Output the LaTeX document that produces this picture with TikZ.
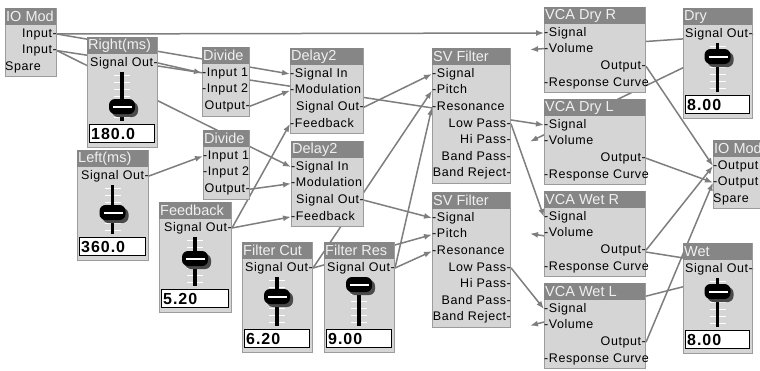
\documentclass[tikz,border=0pt]{standalone}
\usepackage{fontspec}
\setmainfont{Liberation Sans}
\newfontfamily\pinfamily[LetterSpace=4.5]{Liberation Sans}
\newfontfamily\valfamily[LetterSpace=6]{Liberation Sans}
\usetikzlibrary{arrows.meta, calc}

\pgfdeclarelayer{bg}
\pgfdeclarelayer{wires}
\pgfsetlayers{bg,wires,main}

\definecolor{panelfill}{HTML}{D5D5D5}
\definecolor{paneledge}{HTML}{9C9C9C}
\definecolor{headfill}{HTML}{868686}
\definecolor{headtext}{HTML}{F0F0F0}
\definecolor{wirecol}{HTML}{7E7E7E}
\definecolor{knobshade}{HTML}{4A4A4A}

% one module: name, x, y, width, height, title, pins (anchor/text)
\newcommand\module[7]{%
  \node[panel, minimum width=#4pt, minimum height=#5pt] (#1) at (#2,#3) {};
  \node[head, minimum width=#4pt] (#1-hd) at (#2,#3) {};
  \node[title] (#1-tt) at ($(#1-hd.west)+(1,0)$) {#6};
  \foreach \side/\txt [count=\i] in {#7}
    \node[pin, anchor=\side] (#1-\i) at ($(#1.north \side)+(0,{26+(\i-1)*16.6})$) {\txt};
}

% fader module: name, x, y, width, title, knob offset, value
\newcommand\slider[7]{%
  \module{#1}{#2}{#3}{#4}{110}{#5}{east/Signal Out-}
  \coordinate (#1-c) at ({#2+#4/2},#3);
  \foreach \k in {0,...,6}
    \draw[tick] ($(#1-c)+(-8,{38+7*\k})$) -- ++(16,0);
  \draw[rail] ($(#1-c)+(0,35)$) -- ($(#1-c)+(0,84)$);
  \fill[knobshade, rounded corners=6pt] ($(#1-c)+(-10,{#6-5})$) rectangle ($(#1-c)+(16,{#6+10})$);
  \fill[black, rounded corners=6pt] ($(#1-c)+(-13,{#6-8})$) rectangle ($(#1-c)+(13,{#6+7})$);
  \draw[white, line width=1.8pt] ($(#1-c)+(-9,#6)$) -- ($(#1-c)+(10,#6)$);
  \node[valbox, minimum width={#4pt-5pt}] (#1-box) at ({#2+2},{#3+87}) {};
  \node[valtext] (#1-val) at ($(#1-box.west)+(2,0)$) {#7};
}

\begin{document}
\begin{tikzpicture}[
    x=1pt, y=-1pt,
    panel/.style={draw=paneledge, fill=panelfill, line width=1pt, anchor=north west, inner sep=0pt},
    head/.style={fill=headfill, anchor=north west, minimum height=17pt, inner sep=0pt},
    title/.style={anchor=west, inner sep=0pt, text=headtext, font=\fontsize{14.5}{14.5}\selectfont},
    pin/.style={inner sep=0pt, text height=9pt, text depth=2.5pt, font=\pinfamily\fontsize{12.5}{12.5}\selectfont},
    valbox/.style={draw=black, fill=white, line width=1.2pt, anchor=north west, minimum height=18pt, inner sep=0pt},
    valtext/.style={anchor=west, inner sep=0pt, font=\valfamily\bfseries\fontsize{16}{16}\selectfont},
    tick/.style={draw=white, line width=1pt},
    rail/.style={draw=black, line width=3.5pt},
    wire/.style={draw=wirecol, line width=1.5pt, -{Latex[length=8pt,width=6pt]}}
]
\useasboundingbox (0,0) rectangle (760,370);
\begin{pgfonlayer}{bg}
  \fill[white] (0,0) rectangle (760,370);
\end{pgfonlayer}

% inputs and delay times
\module{ioL}{5}{8}{51}{68}{IO Mod}{east/Input-, east/Input-, west/Spare}
\slider{rms}{87}{37}{70}{Right(ms)}{70}{180.0}
\slider{lms}{77}{150}{71}{Left(ms)}{63}{360.0}
\module{divA}{202}{47}{47}{69}{Divide}{west/-Input 1, west/-Input 2, east/Output-}
\module{divB}{203}{130}{46}{69}{Divide}{west/-Input 1, west/-Input 2, east/Output-}
\slider{fbk}{159}{202}{72}{Feedback}{57}{5.20}

% delays and filters
\module{dlyA}{290}{48}{73}{85}{Delay2}{west/-Signal In, west/-Modulation, east/Signal Out-, west/-Feedback}
\module{dlyB}{291}{141}{72}{85}{Delay2}{west/-Signal In, west/-Modulation, east/Signal Out-, west/-Feedback}
\slider{fcut}{242}{242}{70}{Filter Cut}{55}{6.20}
\slider{fres}{324}{242}{70}{Filter Res}{43}{9.00}
\module{svA}{432}{48}{78}{135}{SV Filter}{west/-Signal, west/-Pitch, west/-Resonance, east/Low Pass-, east/Hi Pass-, east/Band Pass-, east/Band Reject-}
\module{svB}{432}{192}{78}{135}{SV Filter}{west/-Signal, west/-Pitch, west/-Resonance, east/Low Pass-, east/Hi Pass-, east/Band Pass-, east/Band Reject-}

% output stage
\module{vdr}{544}{7}{101}{85}{VCA Dry R}{west/-Signal, west/-Volume, east/Output-, west/-Response Curve}
\module{vdl}{544}{99}{101}{85}{VCA Dry L}{west/-Signal, west/-Volume, east/Output-, west/-Response Curve}
\module{vwr}{544}{191}{101}{85}{VCA Wet R}{west/-Signal, west/-Volume, east/Output-, west/-Response Curve}
\module{vwl}{544}{283}{101}{85}{VCA Wet L}{west/-Signal, west/-Volume, east/Output-, west/-Response Curve}
\slider{dry}{683}{8}{69}{Dry}{49}{8.00}
\slider{wet}{683}{243}{69}{Wet}{49}{8.00}
\module{ioR}{713}{140}{60}{68}{IO Mod}{west/-Output, west/-Output, west/Spare}

% volume pins are fed from the right
\foreach \v in {vdr, vdl, vwr, vwl}
  \coordinate (\v-vol) at ($(\v-2.west)+(-14,0)$);

\begin{pgfonlayer}{wires}
  \draw[wire] (ioL-1.east) -- (vdr-1.west);
  \draw[wire] (ioL-1.east) -- (dlyA-1.west);
  \draw[wire] (ioL-2.east) -- (dlyB-1.west);
  \draw[wire] (ioL-2.east) -- (vdl-1.west);
  \draw[wire] (rms-1.east) -- (divA-1.west);
  \draw[wire] (lms-1.east) -- (divB-1.west);
  \draw[wire] (divA-3.east) -- (dlyA-2.west);
  \draw[wire] (divB-3.east) -- (dlyB-2.west);
  \draw[wire] (fbk-1.east) -- (dlyA-4.west);
  \draw[wire] (fbk-1.east) -- (dlyB-4.west);
  \draw[wire] (dlyA-3.east) -- (svA-1.west);
  \draw[wire] (dlyB-3.east) -- (svB-1.west);
  \draw[wire] (fcut-1.east) -- (svA-2.west);
  \draw[wire] (fcut-1.east) -- (svB-2.west);
  \draw[wire] (fres-1.east) -- (svA-3.west);
  \draw[wire] (fres-1.east) -- (svB-3.west);
  \draw[wire] (svA-4.east) -- (vwr-1.west);
  \draw[wire] (svB-4.east) -- (vwl-1.west);
  \draw[wire] (dry-1.east) -- (vdr-vol);
  \draw[wire] (dry-1.east) -- (vdl-vol);
  \draw[wire] (wet-1.east) -- (vwr-vol);
  \draw[wire] (wet-1.east) -- (vwl-vol);
  \draw[wire] (vdr-3.east) -- (ioR-1.west);
  \draw[wire] (vdl-3.east) -- (ioR-2.west);
  \draw[wire] (vwr-3.east) -- (ioR-1.west);
  \draw[wire] (vwl-3.east) -- (ioR-2.west);
\end{pgfonlayer}
\end{tikzpicture}
\end{document}
